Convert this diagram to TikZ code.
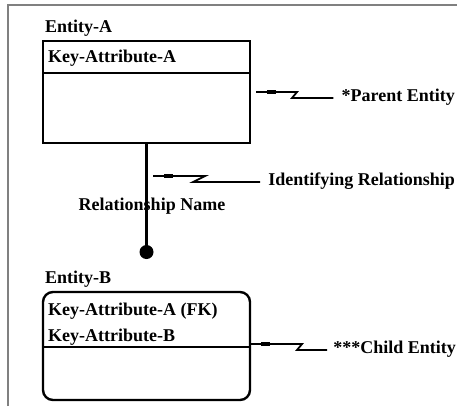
\documentclass[tikz,border=0pt]{standalone}
\usepackage{fontspec}
\setmainfont{Liberation Serif}
\usetikzlibrary{decorations.markings}
\begin{document}
\begin{tikzpicture}[x=1pt, y=-1pt,
lbl/.style={font=\fontsize{18}{21}\selectfont\bfseries, inner sep=0pt},
ebox/.style={draw, line width=2.4pt, minimum width=207pt, inner sep=0pt,
outer sep=0pt, anchor=north west},
divider/.style={line width=2.4pt},
dot/.style={circle, fill, minimum size=14pt, inner sep=0pt},
leader/.style={line width=1.8pt, decoration={markings,
mark=at position -15pt with {\fill (-5pt,-2.4pt) rectangle (4pt,2.4pt);}},
postaction={decorate}}
]
\useasboundingbox (0,0) rectangle (457,408);
\draw[gray, line width=2pt] (8,406) -- (8,5) -- (458,5);

% parent
\node[lbl, anchor=base west] (nameA) at (45,32) {Entity-A};
\node[ebox, minimum height=102pt] (entA) at (43,41) {};
\draw[divider] ([yshift=-32pt]entA.north west) -- ([yshift=-32pt]entA.north east);
\node[lbl, anchor=base west] (keyA) at (48,62) {Key-Attribute-A};

% child
\node[lbl, anchor=base west] (nameB) at (45,283) {Entity-B};
\node[ebox, rounded corners=10pt, minimum height=108pt] (entB) at (43,292) {};
\draw[divider] ([yshift=-55pt]entB.north west) -- ([yshift=-55pt]entB.north east);
\node[lbl, anchor=base west] (keyAB) at (48,315) {Key-Attribute-A (FK)};
\node[lbl, anchor=base west] (keyB) at (48,341) {Key-Attribute-B};

\node[dot] (relB) at (146.5,252) {};
\draw[divider] (entA.south) -- (relB.center);
\node[lbl, anchor=base] (relname) at (152,210) {Relationship Name};

\node[lbl, anchor=east] (parent) at (455,97) {*Parent Entity};
\node[lbl, anchor=east] (ident) at (455,181) {Identifying Relationship};
\node[lbl, anchor=east] (child) at (456,349) {***Child Entity};

\draw[leader] ([xshift=-8pt,yshift=-1pt]parent.west) -- (292,98) -- ++(5,-6) -- ++(-41,0);
\draw[leader] ([xshift=-8pt,yshift=-1pt]ident.west) -- (193,182) -- ++(12,-6) -- ++(-52,0);
\draw[leader] ([xshift=-6pt,yshift=-1pt]child.west) -- (297,350) -- ++(5,-6) -- (entB.east |- 0,344);
\end{tikzpicture}
\end{document}
